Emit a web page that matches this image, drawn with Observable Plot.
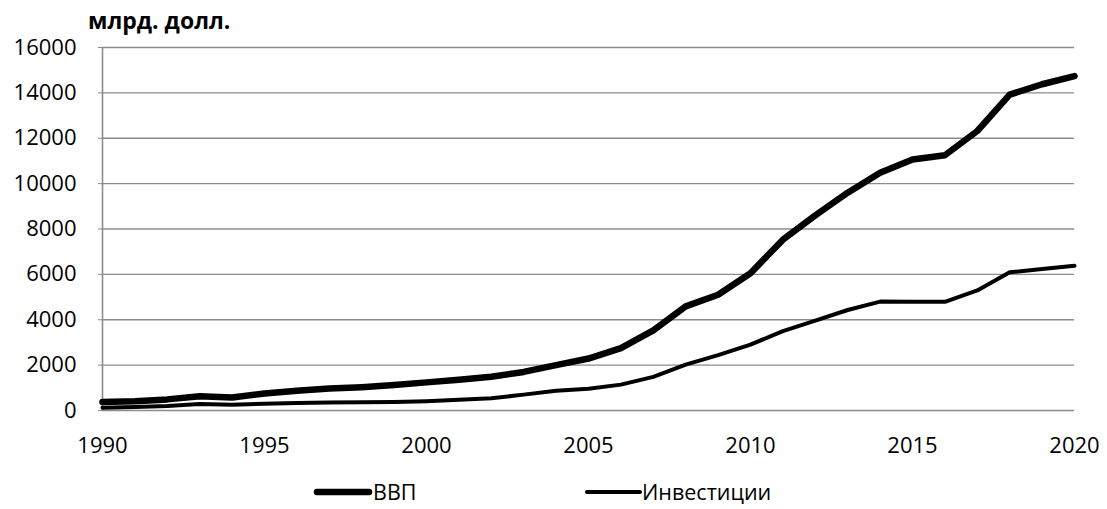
<!DOCTYPE html>
<html>
<head>
<meta charset="utf-8">
<script src="https://cdn.jsdelivr.net/npm/d3@7"></script>
<script src="https://cdn.jsdelivr.net/npm/@observablehq/plot@0.6"></script>
<style>
  body { margin: 0; background: #fff; font-family: "Open Sans", sans-serif; }
  #wrap { position: relative; width: 1107px; height: 505px; }
  #title { position: absolute; left: 88px; top: 5px; font-weight: bold; font-size: 23px; line-height: 30px; color: #000; white-space: nowrap; }
  #chart { position: absolute; left: 0; top: 36px; }
  .leg { position: absolute; top: 478px; height: 28px; line-height: 28px; display: flex; align-items: center; font-size: 21.5px; color: #000; white-space: nowrap; }
  .leg svg { display: block; }
</style>
</head>
<body>
<div id="wrap">
  <div id="title">млрд. долл.</div>
  <div id="chart"></div>
  <div class="leg" style="left:313px"><svg width="60" height="28"><line x1="4" y1="14" x2="56" y2="14" stroke="#000" stroke-width="6.5" stroke-linecap="round"/></svg><span>ВВП</span></div>
  <div class="leg" style="left:585px"><svg width="57" height="28"><line x1="2" y1="14" x2="55" y2="14" stroke="#000" stroke-width="4" stroke-linecap="round"/></svg><span>Инвестиции</span></div>
</div>
<script>
const years = [1990,1991,1992,1993,1994,1995,1996,1997,1998,1999,2000,2001,2002,2003,2004,2005,2006,2007,2008,2009,2010,2011,2012,2013,2014,2015,2016,2017,2018,2019,2020];
const gdp = [380,410,490,630,570,750,870,970,1030,1120,1240,1360,1490,1700,2000,2290,2750,3530,4590,5100,6050,7530,8600,9600,10480,11060,11250,12320,13920,14380,14740];
const invest = [120,150,200,290,250,300,330,350,365,380,410,470,540,700,870,960,1140,1480,2020,2440,2900,3500,3960,4430,4800,4790,4790,5290,6090,6240,6380];
const yTicks = [0,2000,4000,6000,8000,10000,12000,14000,16000];
const xTicks = [1990,1995,2000,2005,2010,2015,2020];

const gdpData = years.map((y, i) => ({year: y, value: gdp[i]}));
const invData = years.map((y, i) => ({year: y, value: invest[i]}));

const grid = "#8c8c8c";
const plot = Plot.plot({
  width: 1107,
  height: 430,
  marginLeft: 102,
  marginRight: 33,
  marginTop: 11,
  marginBottom: 56,
  style: {fontFamily: "'Open Sans', sans-serif", fontSize: "22px", color: "#000", background: "#fff", overflow: "visible"},
  x: {domain: [1990, 2020], ticks: xTicks, tickFormat: d => String(d)},
  y: {domain: [0, 16000], ticks: yTicks, tickFormat: d => String(d)},
  marks: [
    Plot.gridY(yTicks, {stroke: grid, strokeOpacity: 1, strokeWidth: 1.4}),
    Plot.ruleX([1990], {stroke: grid, strokeWidth: 1.6}),
    Plot.axisY({ticks: yTicks, tickSize: 4, tickPadding: 22, stroke: grid, tickFormat: d => String(d), label: null, fill: "#000"}),
    Plot.axisX({ticks: xTicks, tickSize: 0, tickPadding: 27, tickFormat: d => String(d), label: null, fill: "#000"}),
    Plot.line(invData, {x: "year", y: "value", stroke: "#000", strokeWidth: 4, strokeLinejoin: "round", strokeLinecap: "round"}),
    Plot.line(gdpData, {x: "year", y: "value", stroke: "#000", strokeWidth: 6.5, strokeLinejoin: "round", strokeLinecap: "round"})
  ]
});
document.getElementById("chart").appendChild(plot);
</script>
</body>
</html>
